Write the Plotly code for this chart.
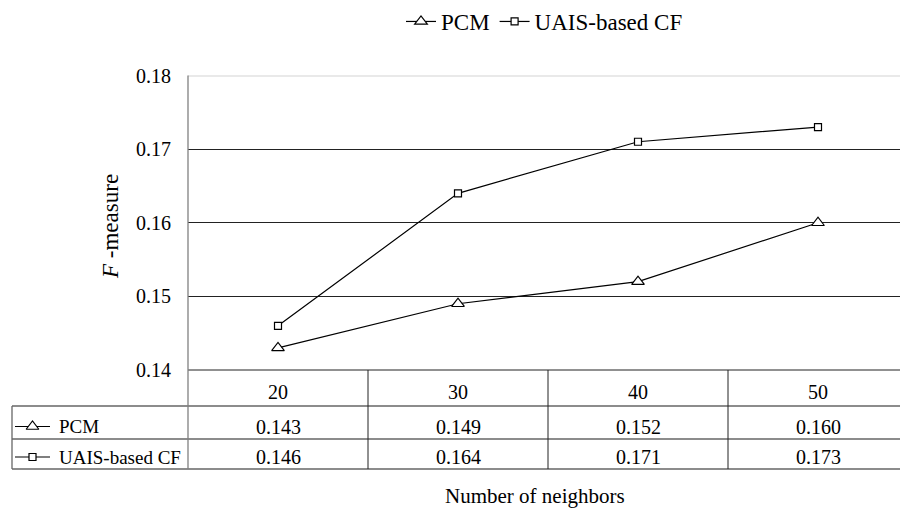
import plotly.graph_objects as go

# ---------------- data ----------------
categories = ["20", "30", "40", "50"]
series_names = ["PCM", "UAIS-based CF"]
pcm_values = [0.143, 0.149, 0.152, 0.160]
uais_values = [0.146, 0.164, 0.171, 0.173]
y_ticks = [0.14, 0.15, 0.16, 0.17, 0.18]

# ---------------- layout constants (pixels) ----------------
W, H = 900, 508
PX_LEFT = 188.0          # plot-area left (y axis)
PX_RIGHT = 900.0         # plot-area right (figure edge)
PY_TOP = 75.5            # y = 0.18
PY_BOT = 370.0           # y = 0.14
COL_W = 180.0            # width of one category column
TABLE_LEFT = 12.0
ROW_LINES = [406.0, 439.0, 469.0]
ROW_CENTERS = [426.5, 457.0]
HEADER_SHIFT = 8

FONT = "Liberation Serif"
symbols = ["triangle-up", "square"]
sizes = [11, 7]
all_values = [pcm_values, uais_values]


def px(x):
    return x / W


def py(y):
    return 1 - y / H


x_idx = list(range(len(categories)))
x_range = [-0.5, -0.5 + (PX_RIGHT - PX_LEFT) / COL_W]

fig = go.Figure()

for name, vals, sym, sz in zip(series_names, all_values, symbols, sizes):
    fig.add_trace(go.Scatter(
        x=x_idx, y=vals, name=name, mode="lines+markers",
        line=dict(color="black", width=1.2),
        marker=dict(symbol=sym, size=sz, color="white",
                    line=dict(color="black", width=1.2)),
        cliponaxis=False,
    ))

# legend keys in the table (pixel coordinate helper axes)
for j, (sym, sz) in enumerate(zip(symbols, sizes)):
    yc = ROW_CENTERS[j]
    fig.add_trace(go.Scatter(
        x=[15, 32.5, 50], y=[yc, yc, yc], mode="lines",
        line=dict(color="black", width=1.2), showlegend=False,
        xaxis="x2", yaxis="y2", hoverinfo="skip",
    ))
    fig.add_trace(go.Scatter(
        x=[32.5], y=[yc], mode="markers",
        marker=dict(symbol=sym, size=sz, color="white",
                    line=dict(color="black", width=1.2)),
        showlegend=False, xaxis="x2", yaxis="y2", hoverinfo="skip",
    ))

shapes = []
line_dark = dict(color="#222222", width=1)
line_gray = dict(color="#666666", width=1.3)
# top (0.18) gridline lighter
shapes.append(dict(type="line", xref="paper", yref="y", x0=px(PX_LEFT), x1=1,
                   y0=y_ticks[-1], y1=y_ticks[-1],
                   line=dict(color="#d4d4d4", width=2), layer="above"))
# bottom of plot / top of table
shapes.append(dict(type="line", xref="paper", yref="paper", x0=px(PX_LEFT), x1=1,
                   y0=py(PY_BOT), y1=py(PY_BOT), line=line_dark))
# table horizontal lines
for yl in ROW_LINES:
    shapes.append(dict(type="line", xref="paper", yref="paper",
                       x0=px(TABLE_LEFT), x1=1, y0=py(yl), y1=py(yl), line=line_gray))
# table left border
shapes.append(dict(type="line", xref="paper", yref="paper",
                   x0=px(TABLE_LEFT), x1=px(TABLE_LEFT),
                   y0=py(ROW_LINES[0]), y1=py(ROW_LINES[-1]), line=line_gray))
# y axis line down through the table
shapes.append(dict(type="line", xref="paper", yref="paper",
                   x0=px(PX_LEFT), x1=px(PX_LEFT),
                   y0=py(PY_TOP), y1=py(ROW_LINES[-1]),
                   line=dict(color="#808080", width=1.3)))
# column separators
for i in x_idx[:-1]:
    shapes.append(dict(type="line", xref="x", yref="paper", x0=i + 0.5, x1=i + 0.5,
                       y0=py(PY_BOT), y1=py(ROW_LINES[-1]), line=line_dark))

annotations = []
for j, (name, vals) in enumerate(zip(series_names, all_values)):
    yc = ROW_CENTERS[j]
    annotations.append(dict(x=px(57), y=py(yc), xref="paper", yref="paper",
                            text=name, showarrow=False, xanchor="left", yanchor="middle",
                            font=dict(family=FONT, size=19, color="black")))
    for i, v in zip(x_idx, vals):
        annotations.append(dict(x=i, y=py(yc), xref="x", yref="paper",
                                text=f"{v:.3f}", showarrow=False,
                                xanchor="center", yanchor="middle",
                                font=dict(family=FONT, size=20, color="black")))

annotations.append(dict(x=px(535), y=py(496), xref="paper", yref="paper",
                        text="Number of neighbors", showarrow=False,
                        xanchor="center", yanchor="middle",
                        font=dict(family=FONT, size=21, color="black")))
annotations.append(dict(x=px(110), y=py(227), xref="paper", yref="paper",
                        text="<i>F</i> -measure", showarrow=False, textangle=-90,
                        xanchor="center", yanchor="middle",
                        font=dict(family=FONT, size=23, color="black")))

fig.update_layout(
    width=W, height=H,
    margin=dict(l=0, r=0, t=0, b=0),
    paper_bgcolor="white", plot_bgcolor="rgba(0,0,0,0)",
    font=dict(family=FONT, size=20, color="black"),
    xaxis=dict(domain=[px(PX_LEFT), 1], range=x_range,
               tickvals=x_idx, ticktext=categories, ticks="",
               showgrid=False, zeroline=False, showline=False,
               ticklabelstandoff=HEADER_SHIFT, automargin=False,
               tickfont=dict(family=FONT, size=20, color="black")),
    yaxis=dict(domain=[py(PY_BOT), py(PY_TOP)], range=[y_ticks[0], y_ticks[-1]],
               tickvals=y_ticks, tickformat=".2f", ticks="",
               showgrid=True, gridcolor="#222222", gridwidth=1,
               zeroline=False, showline=False, automargin=False,
               ticklabelstandoff=16,
               tickfont=dict(family=FONT, size=20, color="black")),
    xaxis2=dict(domain=[0, 1], range=[0, W], visible=False, fixedrange=True),
    yaxis2=dict(domain=[0, 1], range=[H, 0], visible=False, fixedrange=True),
    showlegend=True,
    legend=dict(orientation="h", x=px(401), y=py(0), xanchor="left", yanchor="top",
                font=dict(family=FONT, size=23, color="black"),
                bgcolor="rgba(0,0,0,0)", itemwidth=30),
    shapes=shapes,
    annotations=annotations,
)

fig.write_html(
    "out.html",
    config={"displayModeBar": False},
    post_script="document.body.style.margin='0';document.body.style.padding='0';"
                "document.body.style.overflow='hidden';",
)
